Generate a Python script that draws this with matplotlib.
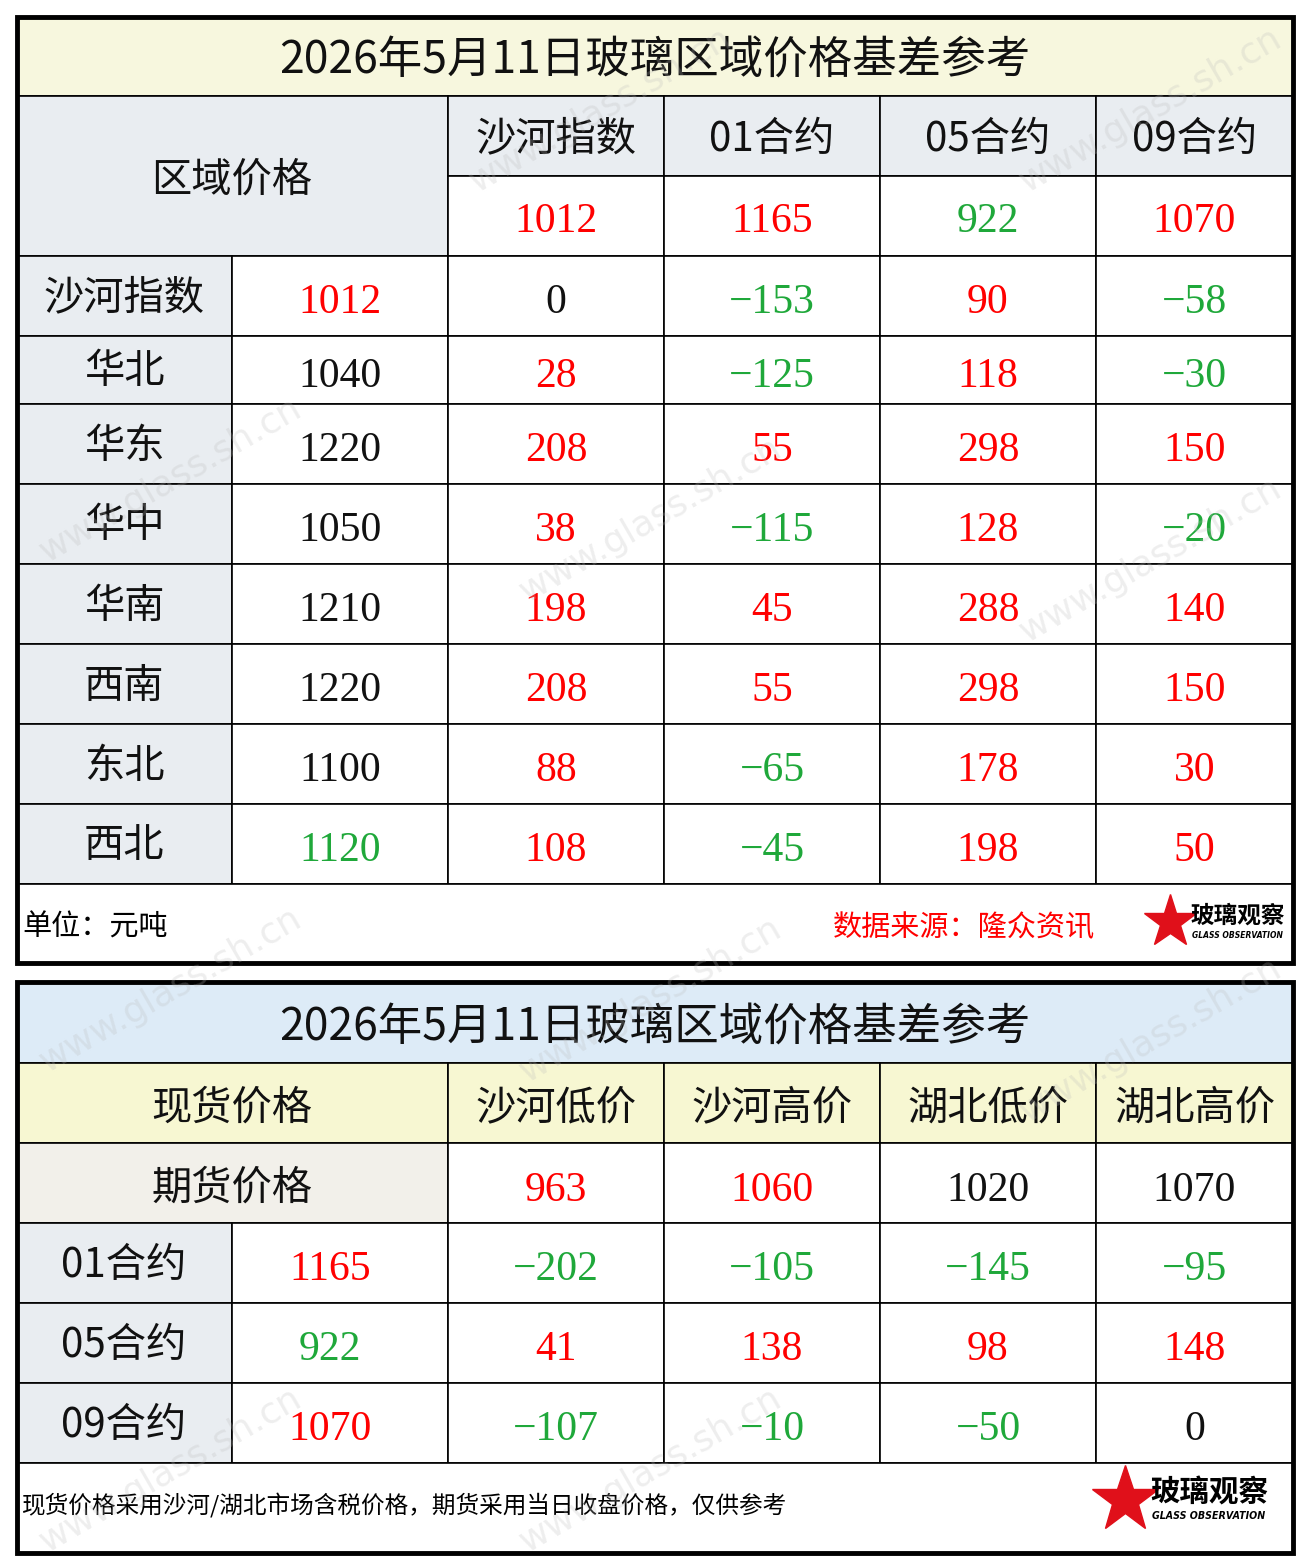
import matplotlib
matplotlib.use("Agg")
import matplotlib.pyplot as plt
from matplotlib.patches import Rectangle

CJK = ["Noto Sans CJK SC", "DejaVu Sans"]
NUM = ["Liberation Serif", "Noto Sans CJK SC"]
RED = "#FF0000"
GREEN = "#1FA83A"
BLACK = "#111111"

title = "2026年5月11日玻璃区域价格基差参考"

# table 1
t1_cols = ["沙河指数", "01合约", "05合约", "09合约"]
t1_head_vals = [1012, 1165, 922, 1070]
t1_head_colors = [RED, RED, GREEN, RED]
t1_regions = ["沙河指数", "华北", "华东", "华中", "华南", "西南", "东北", "西北"]
t1_prices = [1012, 1040, 1220, 1050, 1210, 1220, 1100, 1120]
t1_price_colors = [RED, BLACK, BLACK, BLACK, BLACK, BLACK, BLACK, GREEN]
t1_basis = [
    [0, -153, 90, -58],
    [28, -125, 118, -30],
    [208, 55, 298, 150],
    [38, -115, 128, -20],
    [198, 45, 288, 140],
    [208, 55, 298, 150],
    [88, -65, 178, 30],
    [108, -45, 198, 50],
]

# table 2
t2_cols = ["沙河低价", "沙河高价", "湖北低价", "湖北高价"]
t2_spot = [963, 1060, 1020, 1070]
t2_spot_colors = [RED, RED, BLACK, BLACK]
t2_contracts = ["01合约", "05合约", "09合约"]
t2_fut = [1165, 922, 1070]
t2_fut_colors = [RED, GREEN, RED]
t2_basis = [
    [-202, -105, -145, -95],
    [41, 138, 98, 148],
    [-107, -10, -50, 0],
]

xs = [17, 232, 448, 664, 880, 1096, 1293]


def col_of(v):
    if v > 0:
        return RED
    if v < 0:
        return GREEN
    return BLACK


def fmt(v):
    return str(v).replace("-", "\u2212") if v < 0 else str(v)


fig = plt.figure(figsize=(13.1, 15.6), dpi=100)
ax = fig.add_axes([0, 0, 1, 1])
ax.set_xlim(0, 1310)
ax.set_ylim(1560, 0)
ax.axis("off")


def box(x0, y0, x1, y1, fc="white", lw=1.2, ec="black"):
    ax.add_patch(Rectangle((x0, y0), x1 - x0, y1 - y0, facecolor=fc, edgecolor=ec, lw=lw))


def txt(x, y, s, color=BLACK, size=29, fam=CJK):
    ax.text(x, y, s, color=color, fontsize=size, family=fam, ha="center", va="center")


def logo(x, y, scale):
    ax.plot(x, y, marker="*", ms=40 * scale, color="#E0101A", mec="#E0101A")
    ax.text(x + 20 * scale, y - 6 * scale, "玻璃观察", fontsize=17 * scale, family=CJK,
            fontweight="bold", style="italic", ha="left", va="center")
    ax.text(x + 22 * scale, y + 13 * scale, "GLASS OBSERVATION", fontsize=5.5 * scale,
            fontweight="bold", style="italic", ha="left", va="center")


# ---- table 1
box(17, 17, 1293, 96, fc="#F7F7DE")
txt(655, 60, title, size=32)
box(17, 96, 448, 256, fc="#E9EDF1")
txt(232, 180, "区域价格")
for j in range(4):
    box(xs[j + 2], 96, xs[j + 3], 176, fc="#E9EDF1")
    txt((xs[j + 2] + xs[j + 3]) / 2, 139, t1_cols[j])
    box(xs[j + 2], 176, xs[j + 3], 256)
    txt((xs[j + 2] + xs[j + 3]) / 2, 222, str(t1_head_vals[j]), t1_head_colors[j], size=30, fam=NUM)
ys1 = [256, 336, 404, 484, 564, 644, 724, 804, 884]
for i in range(8):
    y0, y1 = ys1[i], ys1[i + 1]
    yc = (y0 + y1) / 2 + 7
    box(17, y0, 232, y1, fc="#E9EDF1")
    txt(124, yc - 5, t1_regions[i])
    box(232, y0, 448, y1)
    txt(340, yc, str(t1_prices[i]), t1_price_colors[i], size=30, fam=NUM)
    for j in range(4):
        box(xs[j + 2], y0, xs[j + 3], y1)
        v = t1_basis[i][j]
        txt((xs[j + 2] + xs[j + 3]) / 2, yc, fmt(v), col_of(v), size=30, fam=NUM)
box(17, 884, 1293, 963)
ax.text(22, 928, "单位：元吨", fontsize=21, family=CJK, va="center")
ax.text(1095, 928, "数据来源：隆众资讯", fontsize=21, family=CJK, color=RED, va="center", ha="right")
logo(1170, 922, 1.0)
ax.add_patch(Rectangle((17, 17), 1276, 946, fill=False, lw=3.5, ec="black"))

# ---- table 2
box(17, 982, 1293, 1063, fc="#DDEBF7")
txt(655, 1027, title, size=32)
box(17, 1063, 448, 1143, fc="#F7F7D2")
txt(232, 1108, "现货价格")
for j in range(4):
    box(xs[j + 2], 1063, xs[j + 3], 1143, fc="#F7F7D2")
    txt((xs[j + 2] + xs[j + 3]) / 2, 1108, t2_cols[j])
box(17, 1143, 448, 1223, fc="#F2F0EA")
txt(232, 1188, "期货价格")
for j in range(4):
    box(xs[j + 2], 1143, xs[j + 3], 1223)
    txt((xs[j + 2] + xs[j + 3]) / 2, 1191, str(t2_spot[j]), t2_spot_colors[j], size=30, fam=NUM)
ys2 = [1223, 1303, 1383, 1463]
for i in range(3):
    y0, y1 = ys2[i], ys2[i + 1]
    yc = (y0 + y1) / 2 + 7
    box(17, y0, 232, y1, fc="#E9EDF1")
    txt(124, yc - 4, t2_contracts[i])
    box(232, y0, 448, y1)
    txt(330, yc, str(t2_fut[i]), t2_fut_colors[i], size=30, fam=NUM)
    for j in range(4):
        box(xs[j + 2], y0, xs[j + 3], y1)
        v = t2_basis[i][j]
        txt((xs[j + 2] + xs[j + 3]) / 2, yc, fmt(v), col_of(v), size=30, fam=NUM)
box(17, 1463, 1293, 1553)
ax.text(22, 1506, "现货价格采用沙河/湖北市场含税价格，期货采用当日收盘价格，仅供参考",
        fontsize=17, family=CJK, va="center")
logo(1125, 1500, 1.25)
ax.add_patch(Rectangle((17, 982), 1276, 571, fill=False, lw=3.5, ec="black"))

# faint watermarks
for (wx, wy) in [(170, 480), (650, 520), (1150, 560), (170, 990), (650, 1000),
                 (1150, 1040), (170, 1470), (650, 1470), (1150, 110), (600, 110)]:
    ax.text(wx, wy, "www.glass.sh.cn", fontsize=26, color="#BBBBBB", alpha=0.25,
            rotation=30, ha="center", va="center", zorder=10)

fig.savefig("out.png", dpi=100)
